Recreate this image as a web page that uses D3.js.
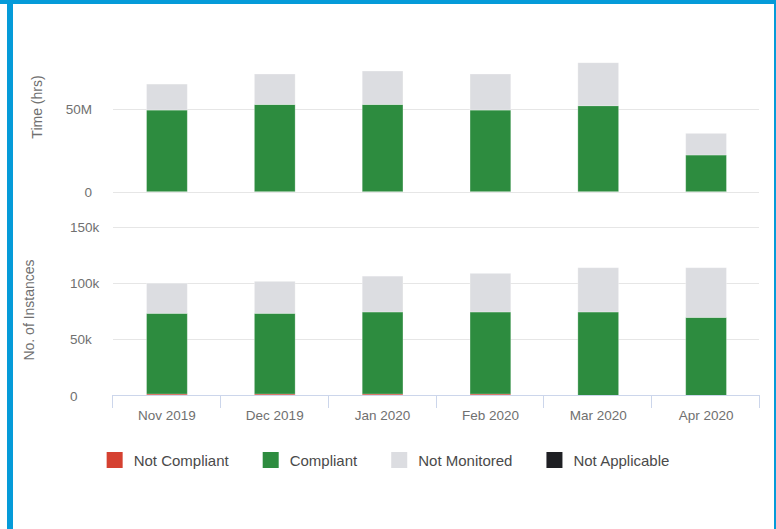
<!DOCTYPE html>
<meta charset="utf-8">
<style>

body { margin: 0; background: #fff; }
text { font-family: "Liberation Sans", Arial, sans-serif; }

</style>
<svg width="776" height="529"></svg>
<script src="https://d3js.org/d3.v7.min.js"></script>
<script>

var months = ["Nov 2019", "Dec 2019", "Jan 2020", "Feb 2020", "Mar 2020", "Apr 2020"];
var seriesNames = ["Not Compliant", "Compliant", "Not Monitored", "Not Applicable"];
var seriesColors = ["#d54131", "#2d8c3f", "#dcdde1", "#1f2024"];

// Time (hrs), in millions
var timeNotCompliant = [0, 0, 0, 0, 0, 0];
var timeCompliant = [49.4, 52.8, 52.8, 49.4, 52.0, 22.2];
var timeNotMonitored = [15.7, 18.4, 20.2, 21.8, 26.0, 13.1];
var timeNotApplicable = [0, 0, 0, 0, 0, 0];
var timeTicks = [0, 50];

// No. of instances, in thousands
var instNotCompliant = [1.3, 1.3, 1.3, 1.3, 0, 0];
var instCompliant = [71.7, 71.7, 72.9, 72.9, 74.2, 69.4];
var instNotMonitored = [26.7, 28.4, 31.8, 34.3, 39.3, 44.1];
var instNotApplicable = [0, 0, 0, 0, 0, 0];
var instTicks = [0, 50, 100, 150];

var svg = d3.select("svg");

// blue frame
svg.append("rect").attr("x", 0).attr("y", 0).attr("width", 776).attr("height", 4).attr("fill", "#059bd9");
svg.append("rect").attr("x", 7).attr("y", 0).attr("width", 6).attr("height", 529).attr("fill", "#059bd9");
svg.append("rect").attr("x", 774).attr("y", 0).attr("width", 2).attr("height", 529).attr("fill", "#059bd9");

var x = d3.scaleBand().domain(months).range([112, 759]);
var barW = x.bandwidth() * 0.378;

function rows(a, b, c, d) {
  return months.map(function(m, i) {
    var r = {month: m};
    r[seriesNames[0]] = a[i];
    r[seriesNames[1]] = b[i];
    r[seriesNames[2]] = c[i];
    r[seriesNames[3]] = d[i];
    return r;
  });
}

var stack = d3.stack().keys(seriesNames);

function drawPanel(data, y, ticks, fmt, grid0, labelX, anchor) {
  var g = svg.append("g");

  g.selectAll(".grid")
    .data(ticks.filter(function(t) { return grid0 || t > 0; }))
    .enter().append("line")
      .attr("x1", 113).attr("x2", 759)
      .attr("y1", function(d) { return Math.round(y(d)) + 0.5; })
      .attr("y2", function(d) { return Math.round(y(d)) + 0.5; })
      .attr("stroke", "#e6e6e6");

  g.selectAll(".tick")
    .data(ticks)
    .enter().append("text")
      .attr("x", labelX)
      .attr("y", function(d) { return y(d) + 5; })
      .attr("text-anchor", anchor)
      .attr("font-size", "13.5px")
      .attr("fill", "#707070")
      .text(fmt);

  var layers = g.selectAll(".layer")
    .data(stack(data))
    .enter().append("g")
      .attr("fill", function(d, i) { return seriesColors[i]; });

  layers.selectAll("rect")
    .data(function(d) { return d.filter(function(p) { return p[1] - p[0] > 0; }); })
    .enter().append("rect")
      .attr("x", function(d) { return x(d.data.month) + (x.bandwidth() - barW) / 2 + 1; })
      .attr("width", barW)
      .attr("y", function(d) { return y(d[1]); })
      .attr("height", function(d) { return y(d[0]) - y(d[1]); })
      .attr("stroke", "#fff")
      .attr("stroke-opacity", 0.35)
      .attr("stroke-width", 0.8);
}

var yTop = d3.scaleLinear().domain([0, 100]).range([191.7, 26.4]);
var yBot = d3.scaleLinear().domain([0, 150]).range([395.5, 226.6]);

drawPanel(rows(timeNotCompliant, timeCompliant, timeNotMonitored, timeNotApplicable),
  yTop, timeTicks, function(d) { return d ? d + "M" : "0"; }, true, 92, "end");
drawPanel(rows(instNotCompliant, instCompliant, instNotMonitored, instNotApplicable),
  yBot, instTicks, function(d) { return d ? d + "k" : "0"; }, false, 70, "start");

// x axis
var axisY = 395.5;
svg.append("line")
    .attr("x1", 112).attr("x2", 760)
    .attr("y1", axisY).attr("y2", axisY)
    .attr("stroke", "#ccd6eb");

var edges = months.map(function(m) { return x(m); }).concat([x.range()[1]]);
svg.selectAll(".xtick")
  .data(edges)
  .enter().append("line")
    .attr("x1", function(d) { return Math.round(d) + 0.5; })
    .attr("x2", function(d) { return Math.round(d) + 0.5; })
    .attr("y1", axisY).attr("y2", 408)
    .attr("stroke", "#ccd6eb");

svg.selectAll(".xlabel")
  .data(months)
  .enter().append("text")
    .attr("x", function(d) { return x(d) + x.bandwidth() / 2 + 1; })
    .attr("y", 420)
    .attr("text-anchor", "middle")
    .attr("font-size", "13.5px")
    .attr("fill", "#707070")
    .text(function(d) { return d; });

// axis titles
svg.append("text")
    .attr("transform", "translate(42,107) rotate(-90)")
    .attr("text-anchor", "middle")
    .attr("font-size", "14px")
    .attr("fill", "#707070")
    .text("Time (hrs)");

svg.append("text")
    .attr("transform", "translate(34,310) rotate(-90)")
    .attr("text-anchor", "middle")
    .attr("font-size", "14px")
    .attr("fill", "#707070")
    .text("No. of Instances");

// legend
var legend = svg.append("g");
var lx = 0;
seriesNames.forEach(function(name, i) {
  var item = legend.append("g").attr("transform", "translate(" + lx + ",0)");
  item.append("rect")
      .attr("x", 0).attr("y", 452)
      .attr("width", 16).attr("height", 16)
      .attr("fill", seriesColors[i]);
  var t = item.append("text")
      .attr("x", 27).attr("y", 466)
      .attr("font-size", "15px")
      .attr("fill", "#4a4a4a")
      .text(name);
  lx += 27 + t.node().getComputedTextLength() + (i < seriesNames.length - 1 ? 34 : 0);
});
legend.attr("transform", "translate(" + (388 - lx / 2) + ",0)");

</script>
